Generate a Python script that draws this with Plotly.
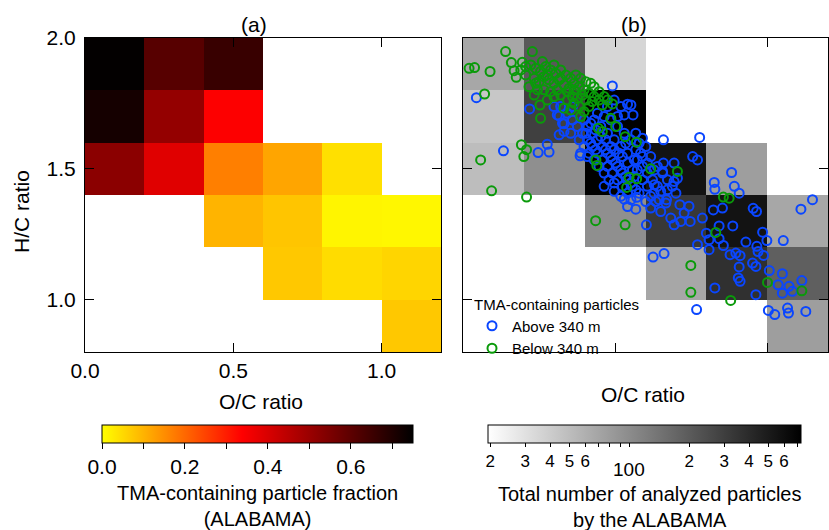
import numpy as np
import plotly.graph_objects as go

# ---------------- data ----------------
oc_edges = [0.0, 0.2, 0.4, 0.6, 0.8, 1.0, 1.2]
hc_edges = [0.8, 1.0, 1.2, 1.4, 1.6, 1.8, 2.0]

# TMA-containing particle fraction, rows from H/C 0.8-1.0 up to 1.8-2.0
tma_fraction = [
    [None, None, None, None, None, 0.073],
    [None, None, None, 0.073, 0.046, 0.056],
    [None, None, 0.099, 0.077, 0.013, 0.010],
    [0.525, 0.388, 0.169, 0.119, 0.041, None],
    [0.716, 0.51, 0.34, None, None, None],
    [0.745, 0.61, 0.66, None, None, None],
]

# total number of analysed particles
total_counts = [
    [None, None, None, None, None, 77],
    [None, None, None, 68, 370, 188],
    [None, None, 96, 330, 555, 68],
    [50, 96, 720, 555, 77, None],
    [43, 295, 720, None, None, None],
    [68, 205, 35, None, None, None],
]

above_oc = [0.044, 0.133, 0.247, 0.283, 0.277, 0.219, 0.316, 0.491, 0.541, 0.552, 0.559, 0.659, 0.778, 0.755, 0.771,
            0.883, 0.826, 0.828, 0.892, 0.908, 1.149, 1.111, 1.053, 0.954, 0.965, 0.823, 0.853, 0.887, 0.842, 0.787,
            0.985, 0.930, 0.999, 0.966, 0.970, 0.809, 0.771, 0.800, 0.809, 0.842, 0.856, 0.878, 0.897, 0.911, 0.908,
            0.905, 0.911, 0.952, 0.963, 0.988, 1.007, 1.050, 1.036, 1.050, 1.072, 1.083, 1.114, 0.828, 0.963, 1.004,
            1.025, 1.067, 1.070, 1.127, 0.768, 0.625, 0.661, 0.603, 0.568, 0.530, 0.571, 0.601, 0.617, 0.634, 0.650,
            0.669, 0.683, 0.694, 0.713, 0.727, 0.743, 0.716, 0.747, 0.694, 0.705, 0.694, 0.700, 0.659, 0.656, 0.629,
            0.650, 0.672, 0.688, 0.316, 0.332, 0.359, 0.385,
            0.310, 0.327, 0.343, 0.360, 0.376, 0.393, 0.409, 0.425, 0.442, 0.458, 0.475, 0.491, 0.508, 0.524, 0.541,
            0.409, 0.425, 0.442, 0.458, 0.475, 0.491, 0.508, 0.524, 0.541, 0.557, 0.573, 0.590, 0.606, 0.623, 0.639,
            0.431, 0.453, 0.475, 0.497, 0.519, 0.541, 0.563, 0.584, 0.601, 0.617, 0.568, 0.552, 0.530, 0.508, 0.486,
            0.464, 0.442, 0.398, 0.382, 0.398, 0.414, 0.431, 0.447, 0.464, 0.480, 0.497, 0.519, 0.332, 0.354, 0.387,
            0.409, 0.360, 0.299, 0.321, 0.590, 0.606, 0.628, 0.573, 0.563, 0.590, 0.606, 0.579, 0.552, 0.541, 0.568,
            0.590, 0.497, 0.519, 0.530, 0.508, 0.475, 0.486, 0.469, 0.617, 0.628, 0.645, 0.667, 0.464, 0.497,
            0.420, 0.436, 0.453, 0.469, 0.486, 0.502, 0.519, 0.535, 0.552, 0.568, 0.404, 0.420, 0.436, 0.524, 0.541,
            0.557, 0.513, 0.497, 0.535, 0.579, 0.639, 0.656, 0.672]
above_hc = [1.772, 1.569, 1.562, 1.564, 1.594, 1.729, 1.630, 1.817, 1.747, 1.744, 1.706, 1.611, 1.620, 1.547, 1.534,
            1.486, 1.448, 1.422, 1.433, 1.407, 1.382, 1.346, 1.226, 1.349, 1.337, 1.343, 1.350, 1.282, 1.282, 1.312,
            1.258, 1.220, 1.226, 1.204, 1.184, 1.191, 1.210, 1.254, 1.229, 1.233, 1.207, 1.172, 1.178, 1.168, 1.125,
            1.083, 1.070, 1.140, 1.127, 1.169, 1.111, 1.099, 1.057, 1.025, 1.051, 1.032, 1.073, 1.045, 1.019, 0.959,
            0.943, 0.968, 0.949, 0.955, 0.962, 1.163, 1.176, 1.286, 1.346, 1.384, 1.391, 1.375, 1.350, 1.375, 1.337,
            1.382, 1.312, 1.286, 1.363, 1.331, 1.357, 1.299, 1.299, 1.452, 1.464, 1.522, 1.407, 1.522, 1.490, 1.439,
            1.414, 1.420, 1.433, 1.702, 1.672, 1.687, 1.550,
            1.706, 1.674, 1.712, 1.687, 1.662, 1.636, 1.611, 1.585, 1.560, 1.534, 1.509, 1.484, 1.458, 1.433, 1.407,
            1.662, 1.636, 1.611, 1.585, 1.560, 1.534, 1.509, 1.484, 1.458, 1.433, 1.534, 1.509, 1.484, 1.458, 1.433,
            1.687, 1.662, 1.636, 1.611, 1.585, 1.560, 1.534, 1.560, 1.585, 1.547, 1.573, 1.611, 1.636, 1.662, 1.687,
            1.700, 1.712, 1.687, 1.611, 1.585, 1.560, 1.534, 1.509, 1.484, 1.458, 1.446, 1.395, 1.643, 1.636, 1.560,
            1.547, 1.738, 1.738, 1.738, 1.547, 1.522, 1.496, 1.496, 1.471, 1.458, 1.433, 1.407, 1.382, 1.356, 1.636,
            1.617, 1.763, 1.738, 1.706, 1.700, 1.738, 1.585, 1.611, 1.395, 1.407, 1.382, 1.369, 1.433, 1.414,
            1.674, 1.649, 1.624, 1.573, 1.547, 1.522, 1.496, 1.471, 1.446, 1.420, 1.636, 1.598, 1.573, 1.547, 1.522,
            1.496, 1.560, 1.573, 1.598, 1.598, 1.509, 1.484, 1.458]

below_oc = [0.140, 0.228, 0.020, 0.038, 0.089, 0.159, 0.195, 0.168, 0.175, 0.071, 0.255, 0.192, 0.209, 0.200, 0.058,
            0.094, 0.209, 0.436, 0.533, 0.533, 0.570, 0.437, 0.440, 0.617, 0.705, 0.546, 0.571, 0.538, 0.856, 0.875,
            0.831, 0.749, 0.749, 0.880, 1.001, 1.114, 0.502, 0.445, 0.458, 0.486, 0.491,
            0.190, 0.206, 0.223, 0.239, 0.255, 0.272, 0.288, 0.305, 0.321, 0.338, 0.354, 0.371, 0.387, 0.404, 0.420,
            0.431, 0.447, 0.464, 0.475, 0.206, 0.234, 0.250, 0.266, 0.283, 0.299, 0.316, 0.332, 0.349, 0.365, 0.382,
            0.398, 0.414, 0.431, 0.447, 0.458, 0.234, 0.253, 0.277, 0.299, 0.321, 0.343, 0.365, 0.382, 0.398, 0.387,
            0.414, 0.217, 0.245, 0.266, 0.288, 0.310, 0.332, 0.354, 0.404, 0.425, 0.343, 0.360, 0.376, 0.393, 0.261,
            0.277, 0.299, 0.321, 0.365, 0.239]
below_hc = [1.948, 1.948, 1.884, 1.887, 1.872, 1.906, 1.907, 1.875, 1.850, 1.786, 1.693, 1.592, 1.573, 1.547, 1.534,
            1.416, 1.392, 1.302, 1.286, 1.623, 1.602, 1.534, 1.513, 1.500, 1.490, 1.468, 1.462, 1.429, 1.392, 1.388,
            1.257, 1.131, 1.028, 0.997, 1.066, 1.034, 1.662, 1.655, 1.643, 1.693, 1.748,
            1.878, 1.891, 1.897, 1.884, 1.872, 1.891, 1.878, 1.865, 1.878, 1.859, 1.846, 1.859, 1.846, 1.833, 1.827,
            1.814, 1.795, 1.776, 1.763, 1.859, 1.846, 1.833, 1.852, 1.840, 1.827, 1.840, 1.821, 1.808, 1.827, 1.814,
            1.802, 1.789, 1.776, 1.763, 1.744, 1.782, 1.744, 1.763, 1.776, 1.782, 1.763, 1.751, 1.738, 1.719, 1.700,
            1.738, 1.814, 1.802, 1.802, 1.795, 1.802, 1.732, 1.725, 1.763, 1.757, 1.795, 1.776, 1.770, 1.782, 1.910,
            1.859, 1.897, 1.846, 1.802, 1.827]

frac_ticks = [0.0, 0.1, 0.2, 0.3, 0.4, 0.5, 0.6, 0.7]
frac_ticktext = ["0.0", "", "0.2", "", "0.4", "", "0.6", ""]
count_ticks = [20, 30, 40, 50, 60, 70, 80, 90, 100, 200, 300, 400, 500, 600, 700]
count_ticktext = ["2", "3", "4", "5", "6", "", "", "", "", "2", "3", "4", "5", "6", ""]
count_min, count_max = 19.5, 730

# ---------------- figure ----------------
FONT = "Liberation Sans, Arial, Helvetica, sans-serif"
W, H = 829, 530

def px_x(p):
    return p / W

def px_y(p):
    return 1 - p / H

log_counts = np.array([[np.nan if v is None else np.log10(v) for v in row] for row in total_counts])
frac = np.array([[np.nan if v is None else v for v in row] for row in tma_fraction])

hot_scale = [[0.0, "#ffff00"], [0.45, "#ff0000"], [1.0, "#000000"]]
gray_scale = [[0.0, "#ffffff"], [1.0, "#000000"]]

fig = go.Figure()

fig.add_trace(go.Heatmap(
    x=oc_edges, y=hc_edges, z=frac, zmin=0.0, zmax=0.75, colorscale=hot_scale,
    xaxis="x", yaxis="y", hoverongaps=False,
    colorbar=dict(orientation="h", x=px_x(257.5), xanchor="center", y=px_y(425), yanchor="top",
                  len=311, lenmode="pixels", thickness=18, xpad=0, ypad=0,
                  outlinecolor="black", outlinewidth=1,
                  tickmode="array", tickvals=frac_ticks, ticktext=frac_ticktext,
                  ticks="outside", ticklen=6, tickcolor="black",
                  tickfont=dict(family=FONT, size=21, color="black")),
))

fig.add_trace(go.Heatmap(
    x=oc_edges, y=hc_edges, z=log_counts, zmin=np.log10(count_min), zmax=np.log10(count_max),
    colorscale=gray_scale, xaxis="x2", yaxis="y2", hoverongaps=False,
    colorbar=dict(orientation="h", x=px_x(644.5), xanchor="center", y=px_y(425), yanchor="top",
                  len=313, lenmode="pixels", thickness=18, xpad=0, ypad=0,
                  outlinecolor="black", outlinewidth=1,
                  tickmode="array", tickvals=[np.log10(v) for v in count_ticks], ticktext=count_ticktext,
                  ticks="outside", ticklen=4, tickcolor="black",
                  tickfont=dict(family=FONT, size=17, color="black")),
))

fig.add_trace(go.Scatter(
    x=above_oc, y=above_hc, mode="markers", name="Above 340 m", xaxis="x2", yaxis="y2",
    marker=dict(symbol="circle-open", size=9, color="#0a46ff", line=dict(width=2, color="#0a46ff")),
))
fig.add_trace(go.Scatter(
    x=below_oc, y=below_hc, mode="markers", name="Below 340 m", xaxis="x2", yaxis="y2",
    marker=dict(symbol="circle-open", size=9, color="#0a9a0a", line=dict(width=2, color="#0a9a0a")),
))

ydom = [px_y(352), px_y(38)]
axis_common = dict(range=[0, 1.2], showgrid=False, zeroline=False, showline=True, linecolor="black",
                   linewidth=1, mirror="ticks", ticks="inside", ticklen=9, tickcolor="black",
                   tickfont=dict(family=FONT, size=21, color="black"))
yaxis_common = dict(range=[0.8, 2.0], showgrid=False, zeroline=False, showline=True, linecolor="black",
                    linewidth=1, mirror="ticks", ticks="inside", ticklen=9, tickcolor="black",
                    tickfont=dict(family=FONT, size=21, color="black"))

fig.update_layout(
    width=W, height=H, margin=dict(l=0, r=0, t=0, b=0, autoexpand=False),
    paper_bgcolor="white", plot_bgcolor="white",
    font=dict(family=FONT, color="black"),
    xaxis=dict(domain=[px_x(85), px_x(441)], anchor="y", tickvals=[0, 0.5, 1.0],
               ticktext=["0.0", "0.5", "1.0"], ticklabelstandoff=0, **axis_common),
    yaxis=dict(domain=ydom, anchor="x", tickvals=[1.0, 1.5, 2.0],
               ticktext=["1.0", "1.5", "2.0"], ticklabelstandoff=4, **yaxis_common),
    xaxis2=dict(domain=[px_x(463), px_x(828)], anchor="y2", tickvals=[0.5, 1.0],
                showticklabels=False, **axis_common),
    yaxis2=dict(domain=ydom, anchor="x2", tickvals=[1.0, 1.5],
                showticklabels=False, **yaxis_common),
    showlegend=True,
    legend=dict(x=px_x(472), y=px_y(290), xanchor="left", yanchor="top",
                bgcolor="rgba(0,0,0,0)", itemwidth=30,
                title=dict(text="TMA-containing particles", font=dict(family=FONT, size=15, color="black")),
                font=dict(family=FONT, size=15, color="black"), tracegroupgap=0),
)

def note(text, x, y, size=21, angle=0):
    fig.add_annotation(text=text, x=px_x(x), y=px_y(y), xref="paper", yref="paper",
                       showarrow=False, textangle=angle, xanchor="center", yanchor="middle",
                       font=dict(family=FONT, size=size, color="black"))

note("(a)", 254, 25)
note("(b)", 634, 25)
note("H/C ratio", 21, 212, angle=-90)
note("O/C ratio", 261, 401)
note("O/C ratio", 643, 395)
note("TMA-containing particle fraction<br>(ALABAMA)", 257, 506, size=20)
note("Total number of analyzed particles<br>by the ALABAMA", 650, 507, size=20)
note("100", 629, 469, size=19)

fig.write_html("out.html")
